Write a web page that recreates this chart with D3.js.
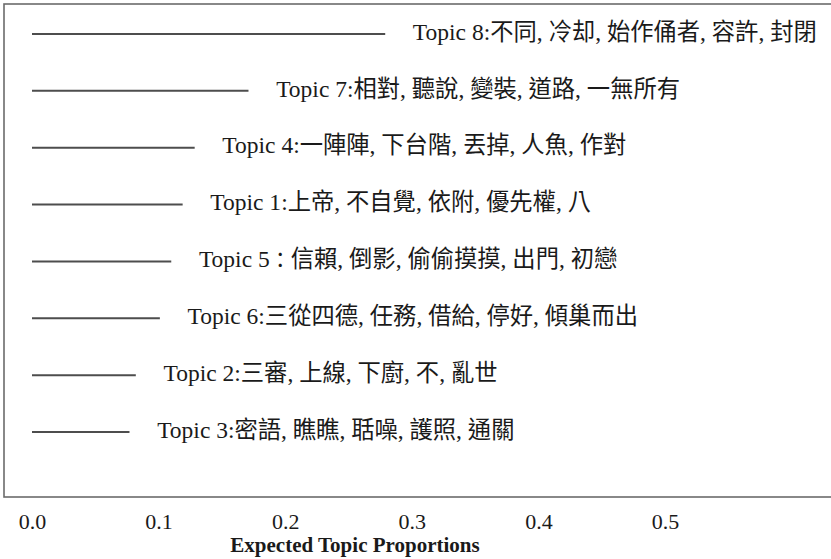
<!DOCTYPE html>
<html>
<head>
<meta charset="utf-8">
<script src="https://cdn.jsdelivr.net/npm/d3@7"></script>
<style>
  html, body { margin: 0; padding: 0; background: #fff; }
  svg { display: block; }
</style>
</head>
<body>
<svg id="chart" width="831" height="559"></svg>
<script>
// Topics ordered from top to bottom by expected proportion
const topics = ["Topic 8", "Topic 7", "Topic 4", "Topic 1", "Topic 5", "Topic 6", "Topic 2", "Topic 3"];
const topWords = [
  "不同, 冷却, 始作俑者, 容許, 封閉",
  "相對, 聽說, 變裝, 道路, 一無所有",
  "一陣陣, 下台階, 丟掉, 人魚, 作對",
  "上帝, 不自覺, 依附, 優先權, 八",
  "信賴, 倒影, 偷偷摸摸, 出門, 初戀",
  "三從四德, 任務, 借給, 停好, 傾巢而出",
  "三審, 上線, 下廚, 不, 亂世",
  "密語, 瞧瞧, 聒噪, 護照, 通關"
];
const separators = [":", ":", ":", ":", "：", ":", ":", ":"];
const proportions = [0.279, 0.171, 0.1285, 0.119, 0.110, 0.101, 0.082, 0.077];
const tickValues = [0.0, 0.1, 0.2, 0.3, 0.4, 0.5];
const tickLabels = ["0.0", "0.1", "0.2", "0.3", "0.4", "0.5"];
const xTitle = "Expected Topic Proportions";

const svg = d3.select("#chart");
const box = { left: 4, top: 4, right: 900, bottom: 497 };

const x = d3.scaleLinear().domain([0, 0.5]).range([32, 665]);
const y = d3.scalePoint().domain(topics).range([34, 432]);

const latin = "'Liberation Serif', serif";
const cjk = "'Noto Sans CJK TC', 'Noto Sans CJK SC', sans-serif";

// plot frame
svg.append("rect")
  .attr("x", box.left).attr("y", box.top)
  .attr("width", box.right - box.left).attr("height", box.bottom - box.top)
  .attr("fill", "none").attr("stroke", "#6b6b6b").attr("stroke-width", 1.6);

const rows = svg.append("g").selectAll("g")
  .data(topics.map((t, i) => ({ topic: t, words: topWords[i], sep: separators[i], value: proportions[i] })))
  .join("g");

rows.append("line")
  .attr("x1", x(0)).attr("x2", d => x(d.value))
  .attr("y1", d => y(d.topic)).attr("y2", d => y(d.topic))
  .attr("stroke", "#4d4d4d").attr("stroke-width", 2);

const labels = rows.append("text")
  .attr("x", d => x(d.value + 0.01) + 15)
  .attr("y", d => y(d.topic))
  .attr("dy", "0.36em")
  .attr("fill", "#1a1a1a");

labels.append("tspan")
  .attr("font-family", latin)
  .attr("font-size", 23.5)
  .text(d => d.topic);

labels.append("tspan")
  .attr("font-family", d => d.sep === "：" ? cjk : latin)
  .attr("font-size", d => d.sep === "：" ? 21 : 23.5)
  .text(d => d.sep);

// word list: CJK terms joined by Latin commas
labels.each(function(d) {
  const t = d3.select(this);
  d.words.split(", ").forEach((w, i, arr) => {
    t.append("tspan").attr("font-family", cjk).attr("font-size", 23.3).text(w);
    if (i < arr.length - 1) {
      t.append("tspan").attr("font-family", latin).attr("font-size", 23.5).text(", ");
    }
  });
});

// x axis: labels only, no axis line
const axis = d3.axisBottom(x)
  .tickValues(tickValues)
  .tickFormat((d, i) => tickLabels[i])
  .tickSize(0)
  .tickPadding(0);

const gx = svg.append("g")
  .attr("transform", `translate(0, 529)`)
  .call(axis);
gx.select(".domain").remove();
gx.selectAll("text")
  .attr("y", 0).attr("dy", 0)
  .attr("font-family", latin)
  .attr("font-size", 22)
  .attr("fill", "#1a1a1a");

svg.append("text")
  .attr("x", 355).attr("y", 552)
  .attr("text-anchor", "middle")
  .attr("font-family", latin)
  .attr("font-weight", "bold")
  .attr("font-size", 21)
  .attr("fill", "#1a1a1a")
  .text(xTitle);
</script>
</body>
</html>
